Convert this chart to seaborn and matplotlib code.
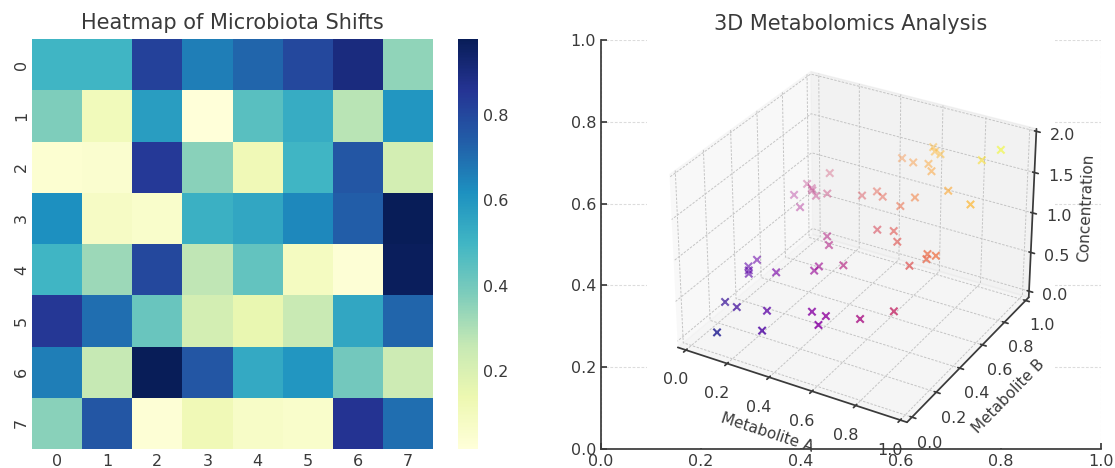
import matplotlib
matplotlib.use("Agg")
import matplotlib.pyplot as plt
import numpy as np
import seaborn as sns

heat_rows = [
    [.50, .50, .82, .66, .72, .80, .90, .35],
    [.38, .11, .58, .02, .45, .53, .28, .60],
    [.04, .05, .84, .36, .12, .50, .76, .22],
    [.62, .08, .06, .52, .55, .64, .74, .98],
    [.50, .33, .80, .27, .43, .09, .03, .97],
    [.85, .70, .42, .22, .15, .25, .55, .72],
    [.66, .26, .98, .76, .54, .60, .40, .24],
    [.36, .76, .03, .12, .07, .06, .86, .70],
]
metabolite_a = [.110, .332, .044, .123, .290, .516, .597, .589, .768, .902,
                .039, .055, .067, .060, .205, .393, .403, .521, .343, .382,
                .841, .901, .891, .935, .574, .659, .710, .020, .098, .050,
                .091, .103, .142, .194, .133, .383, .446, .493, .612, .657,
                .462, .534, .616, .655, .585, .608, .645, .799, .947, .868, .929]
metabolite_b = [.028, .022, .192, .159, .127, .105, .077, .033, .050, .078,
                .383, .360, .341, .417, .336, .328, .349, .344, .516, .465,
                .312, .340, .367, .354, .527, .511, .449, .783, .704, .842,
                .812, .798, .763, .769, .893, .735, .750, .715, .650, .691,
                .934, .900, .881, .835, .979, .951, .931, .710, .619, .867, .915]
concentration = [.138, .354, .236, .282, .417, .621, .674, .622, .818, .980,
                 .422, .415, .408, .477, .541, .721, .752, .865, .859, .847,
                 1.153, 1.241, 1.258, 1.289, 1.101, 1.170, 1.159, .803, .802, .892,
                 .903, .901, .905, .963, 1.026, 1.118, 1.196, 1.208, 1.262, 1.348,
                 1.396, 1.434, 1.497, 1.490, 1.564, 1.559, 1.576, 1.509, 1.566, 1.735, 1.844]

TEXT = "#3a3a3a"
sns.set_theme(style="white", rc={
    "text.color": TEXT, "axes.labelcolor": TEXT, "xtick.color": TEXT, "ytick.color": TEXT,
    "axes.edgecolor": TEXT, "xtick.direction": "in", "ytick.direction": "in",
    "xtick.bottom": True, "ytick.left": True,
    "grid.color": "#c4c4c4", "grid.linestyle": (0, (2.5, 1.5)), "grid.linewidth": 0.7,
    "axes.titlesize": 15, "axes.labelsize": 11, "xtick.labelsize": 11.5, "ytick.labelsize": 11.5,
    "axes.titlecolor": TEXT, "axes.linewidth": 1.25,
})
plt.rcParams["font.family"] = ["DejaVu Sans"]

W, H = 1115, 468
fig = plt.figure(figsize=(W / 100, H / 100), dpi=100)

ax_heat = fig.add_axes([32 / W, 1 - 449 / H, 401 / W, 410 / H])
cax = fig.add_axes([458 / W, 1 - 449 / H, 20 / W, 410 / H])
sns.heatmap(np.array(heat_rows), cmap="YlGnBu", vmin=.017, vmax=.978, ax=ax_heat, cbar_ax=cax)
ax_heat.set_title("Heatmap of Microbiota Shifts", pad=7)
ax_heat.tick_params(length=3)
ax_heat.tick_params(axis="y", pad=2)
cax.tick_params(length=3, direction="in", left=True, right=True)

# plain 2D axes sit under the 3D one, only their edges stay visible
ax_back = fig.add_axes([601 / W, 1 - 449 / H, 500 / W, 409 / H])
ax_back.grid(True, color="#dcdcdc", lw=0.8)
ax_back.tick_params(length=4)
sns.despine(ax=ax_back)

# stronger depth fade than mplot3d gives: far points come out pale
nearness = .5 * np.array(metabolite_a) - .87 * np.array(metabolite_b)
conc = np.array(concentration)
colors = plt.get_cmap("plasma")((conc - conc.min()) / (conc.max() - conc.min()))
colors[:, 3] = .38 + .55 * (nearness - nearness.min()) / (nearness.max() - nearness.min())

ax3 = fig.add_axes([601 / W, 1 - 448 / H, 500 / W, 408 / H], projection="3d")
ax3.scatter(metabolite_a, metabolite_b, concentration, c=colors,
            marker="x", s=28, linewidths=1.5, depthshade=False)
ax3.set_xlim(-.04, 1.03)
ax3.set_ylim(-.04, 1.03)
ax3.set_zlim(-.08, 2.03)
ax3.set_zticks([0, .5, 1, 1.5, 2])
ax3.set_xlabel("Metabolite A")
ax3.set_ylabel("Metabolite B")
ax3.set_zlabel("Concentration", labelpad=3)
ax3.set_title("3D Metabolomics Analysis", pad=7)

fig.savefig("out.png", dpi=100)
